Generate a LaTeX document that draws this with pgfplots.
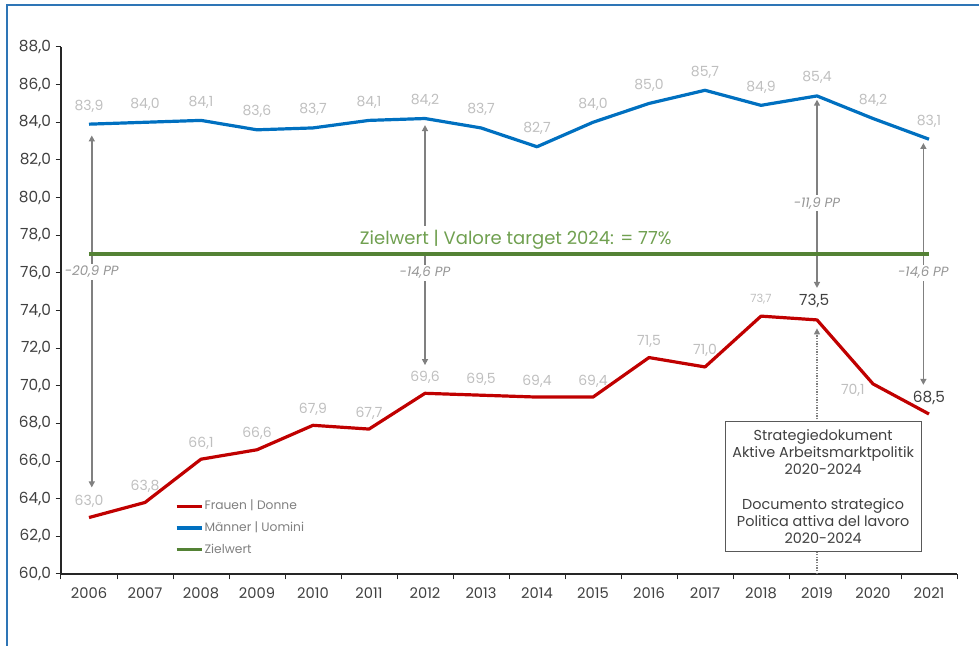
\documentclass[border=0pt]{standalone}
\usepackage{pgfplots}
\pgfplotsset{compat=1.18}
\usepackage{fontspec}
\setmainfont{Poppins}
\usetikzlibrary{arrows.meta}
\definecolor{mblue}{RGB}{0,112,192}
\definecolor{fred}{RGB}{192,0,0}
\definecolor{zgreen}{RGB}{84,130,53}
\definecolor{zgtext}{RGB}{112,160,80}
\definecolor{lab}{RGB}{191,191,191}
\definecolor{arr}{RGB}{128,128,128}
\definecolor{arrtxt}{RGB}{150,150,150}
\definecolor{dark}{RGB}{64,64,64}
\definecolor{legtxt}{RGB}{128,128,128}
\definecolor{framec}{RGB}{46,117,182}
\begin{document}
\begin{tikzpicture}
\useasboundingbox (0,0) rectangle (734.25pt,484.5pt);
\begin{axis}[
  at={(45.75pt,54pt)}, anchor=south west,
  scale only axis, width=672pt, height=395.25pt,
  xmin=2005.5, xmax=2021.5, ymin=60, ymax=88,
  axis lines*=left,
  axis line style={line width=0.9pt, color=black!85},
  xtick={2006,2007,2008,2009,2010,2011,2012,2013,2014,2015,2016,2017,2018,2019,2020,2021},
  major x tick style={draw=none},
  minor xtick={2005.5,2006.5,2007.5,2008.5,2009.5,2010.5,2011.5,2012.5,2013.5,2014.5,2015.5,2016.5,2017.5,2018.5,2019.5,2020.5,2021.5},
  minor tick length=4pt,
  major tick length=4pt,
  tick align=outside,
  ytick={60,62,...,88},
  tick style={color=black!85, line width=0.75pt},
  /pgf/number format/assume math mode=true,
  x tick label style={font=\fontsize{11}{13}\selectfont, text=dark, /pgf/number format/1000 sep={}, yshift=-3pt},
  y tick label style={font=\fontsize{11.5}{13}\selectfont, text=dark, /pgf/number format/.cd, fixed, fixed zerofill, precision=1, use comma},
  legend style={at={(0.127,0.143)}, anchor=north west, draw=none, fill=none,
    font=\fontsize{9.2}{11}\selectfont, text=legtxt, row sep=5.6pt, inner sep=0pt,
    nodes={inner sep=1pt}},
  legend cell align=left,
  legend image code/.code={\draw[#1, line width=2.4pt, line cap=butt] (0pt,0pt) -- (18.75pt,0pt);},
  clip=false,
]
% Frauen line
\addplot[fred, line width=2.4pt, line join=round, mark=none] coordinates {
 (2006,63.0) (2007,63.8) (2008,66.1) (2009,66.6) (2010,67.9) (2011,67.7)
 (2012,69.6) (2013,69.5) (2014,69.4) (2015,69.4) (2016,71.5) (2017,71.0)
 (2018,73.7) (2019,73.5) (2020,70.1) (2021,68.5)};
\addlegendentry{Frauen | Donne}
% Maenner line
\addplot[mblue, line width=2.4pt, line join=round, mark=none,
  point meta=y,
  nodes near coords={\pgfmathprintnumber[fixed,fixed zerofill,precision=1,use comma]{\pgfplotspointmeta}},
  every node near coord/.append style={font=\fontsize{10.5}{12}\selectfont, text=lab, anchor=base, yshift=10.5pt, inner sep=0pt}]
 coordinates {
 (2006,83.9) (2007,84.0) (2008,84.1) (2009,83.6) (2010,83.7) (2011,84.1)
 (2012,84.2) (2013,83.7) (2014,82.7) (2015,84.0) (2016,85.0) (2017,85.7)
 (2018,84.9) (2019,85.4) (2020,84.2) (2021,83.1)};
\addlegendentry{Männer | Uomini}
% Frauen labels (regular ones)
\addplot[draw=none, mark=none, forget plot,
  point meta=y,
  nodes near coords={\pgfmathprintnumber[fixed,fixed zerofill,precision=1,use comma]{\pgfplotspointmeta}},
  every node near coord/.append style={font=\fontsize{10.5}{12}\selectfont, text=lab, anchor=base, yshift=9pt, inner sep=0pt}]
 coordinates {
 (2006,63.0) (2007,63.8) (2008,66.1) (2009,66.6) (2010,67.9) (2011,67.7)
 (2012,69.6) (2013,69.5) (2014,69.4) (2015,69.4) (2016,71.5) (2017,71.0)};
% special labels
\node[font=\fontsize{8.5}{10}\selectfont, text=lab, anchor=base, inner sep=0pt] at (axis cs:2018,74.4) {73,7};
\node[font=\fontsize{11.5}{13}\selectfont, text=dark, anchor=base, inner sep=0pt] at (axis cs:2018.95,74.24) {73,5};
\node[font=\fontsize{10.5}{12}\selectfont, text=lab, anchor=base, inner sep=0pt] at (axis cs:2019.64,69.56) {70,1};
\node[font=\fontsize{11.5}{13}\selectfont, text=dark, anchor=base, inner sep=0pt] at (axis cs:2021,69.09) {68,5};
% gap arrows
\tikzset{gaparr/.style={draw=arr, line width=1.1pt, {Triangle[length=4.5pt,width=4.5pt]}-{Triangle[length=4.5pt,width=4.5pt]}},
         gaplab/.style={font=\fontsize{10}{11}\itshape, text=arrtxt, fill=white, inner sep=1.5pt}}
\draw[gaparr] (axis cs:2006.05,64.6) -- (axis cs:2006.05,83.3);
\node[gaplab] at (axis cs:2006.05,76.05) {-20,9 PP};
\draw[gaparr] (axis cs:2012,71.1) -- (axis cs:2012,83.85);
\node[gaplab] at (axis cs:2012,76.0) {-14,6 PP};
\draw[gaparr] (axis cs:2019,75.2) -- (axis cs:2019,85.2);
\node[gaplab] at (axis cs:2019,79.7) {-11,9 PP};
\draw[gaparr] (axis cs:2020.9,70.05) -- (axis cs:2020.9,82.9);
\node[gaplab] at (axis cs:2020.9,76.0) {-14,6 PP};
% Zielwert text
\node[font=\fontsize{13.5}{16}\selectfont, text=zgtext, anchor=base, fill=white, inner xsep=1pt, inner ysep=3pt] at (axis cs:2013.62,77.53) {Zielwert | Valore target 2024: = 77\%};
% Zielwert line
\addplot[zgreen, line width=2.4pt, mark=none] coordinates {(2006,77) (2021,77)};
\addlegendentry{Zielwert}
% dotted arrow and strategy box
\draw[draw=arr, line width=1pt, densely dotted, -{Triangle[length=4.5pt,width=4.5pt]}] (axis cs:2019,60) -- (axis cs:2019,73.05);
\node[draw=black!65, line width=0.75pt, fill=white, anchor=north, align=center,
  minimum width=147pt, minimum height=97.5pt, inner sep=3pt, text=dark,
  font=\fontsize{10.8}{12.9}\selectfont] at (axis cs:2019.11,68.13)
  {Strategiedokument\\Aktive Arbeitsmarktpolitik\\2020-2024\\[12.9pt]Documento strategico\\Politica attiva del lavoro\\2020-2024};
\end{axis}
\draw[framec, line width=1.5pt] (5.25pt,-2pt) -- (5.25pt,480.75pt) -- (740pt,480.75pt);
\end{tikzpicture}
\end{document}
